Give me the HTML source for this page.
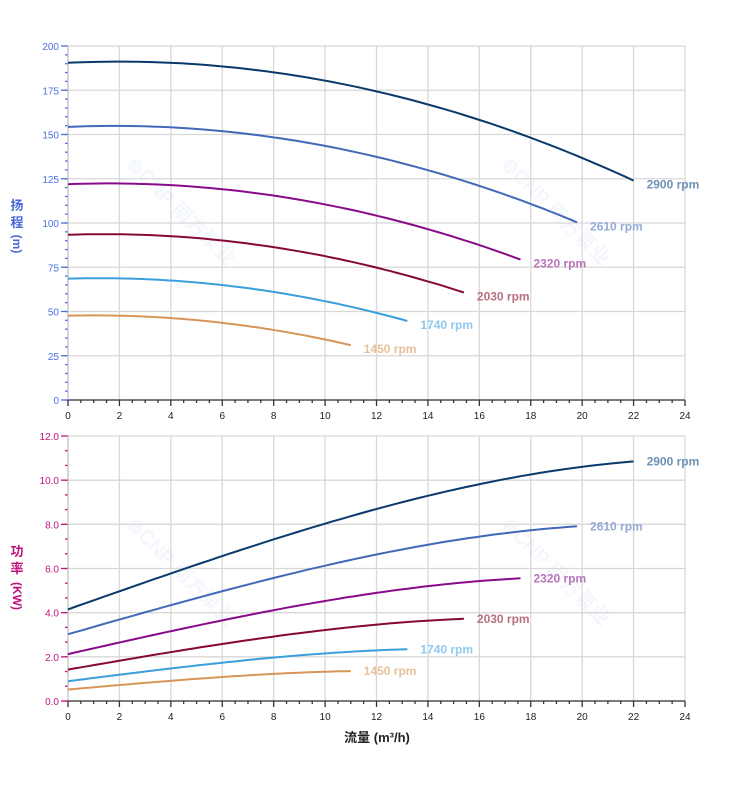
<!DOCTYPE html>
<html><head><meta charset="utf-8"><style>
html,body{margin:0;padding:0;background:#fff;}
svg{display:block;font-family:"Liberation Sans","Noto Sans CJK SC",sans-serif;}
</style></head><body>
<svg id="s" width="752" height="797" xmlns="http://www.w3.org/2000/svg">
<g opacity="0.06" fill="#3a7bd5" font-weight="bold" font-size="20">
<text transform="translate(125,165) rotate(45)">⊜CNP 南方泵业</text>
<text transform="translate(500,165) rotate(45)">⊜CNP 南方泵业</text>
<text transform="translate(125,525) rotate(45)">⊜CNP 南方泵业</text>
<text transform="translate(500,525) rotate(45)">⊜CNP 南方泵业</text>
</g>
<g id="g"></g>
<text x="17" y="210" font-size="13" font-weight="bold" fill="#4a68d8" text-anchor="middle">扬</text>
<text x="17" y="227" font-size="13" font-weight="bold" fill="#4a68d8" text-anchor="middle">程</text>
<text transform="translate(13,244) rotate(90)" font-size="12" font-weight="bold" fill="#4a68d8" text-anchor="middle">(m)</text>
<text x="17" y="556" font-size="13" font-weight="bold" fill="#c0147e" text-anchor="middle">功</text>
<text x="17" y="573" font-size="13" font-weight="bold" fill="#c0147e" text-anchor="middle">率</text>
<text transform="translate(13,596) rotate(90)" font-size="12" font-weight="bold" fill="#c0147e" text-anchor="middle">(KW)</text>
<text x="377" y="742" font-size="13" font-weight="bold" fill="#222" text-anchor="middle">流量 (m³/h)</text>
</svg>
<script>
var g=document.getElementById('g'),h='';
var X0=68,X1=685,xs=(X1-X0)/24;
function X(q){return X0+q*xs;}
function ln(a,b,c,d,col,w){h+='<line x1="'+a+'" y1="'+b+'" x2="'+c+'" y2="'+d+'" stroke="'+col+'" stroke-width="'+w+'"/>';}
function tx(x,y,t,col,sz,anc,bold){h+='<text x="'+x+'" y="'+y+'" fill="'+col+'" font-size="'+sz+'" text-anchor="'+(anc||'start')+'"'+(bold?' font-weight="bold"':'')+'>'+t+'</text>';}
function chart(yT,yB,max,maj,minN,col,fmt){
  var ys=(yB-yT)/max;
  for(var i=0;i<=12;i++){ln(X(2*i),yT,X(2*i),yB,'#d8d8d8',1.3);}
  for(var v=0;v<=max+1e-9;v+=maj){var y=yB-v*ys;ln(X0,y,X1,y,'#d8d8d8',1.3);ln(X0-7,y,X0,y,col,1.3);tx(X0-9,y+4,fmt(v),col,10,'end');}
  for(var v=0;v<max-1e-9;v+=maj/minN){var y=yB-v*ys;ln(X0-3,y,X0,y,col,1.3);}
  ln(X0,yT,X0,yB,'#bbb',1);
  ln(X0,yB,X1,yB,'#333',1.3);
  for(var q=0;q<=24;q+=0.5){var big=(q%2==0);ln(X(q),yB,X(q),yB+(big?6:3),'#333',1.3);}
  for(var q=0;q<=24;q+=2)tx(X(q),yB+19,q,'#222',10,'middle');
  return ys;
}
var ysT=chart(46,400,200,25,5,'#4a70e0',function(v){return v;});
var ysB=chart(436,701,12,2,3,'#c0147e',function(v){return v.toFixed(1);});
var sp=[[2900,'#0a3a6b','#6c92b4'],[2610,'#4169b8','#93a8d4'],[2320,'#8a0b8a','#b874b8'],[2030,'#850935','#b8707f'],[1740,'#3a9fdc','#8fc9ee'],[1450,'#d8955a','#e8c09c']];
sp.forEach(function(s){
  var r=s[0]/2900,qm=22*r,pa='',pb='';
  for(var i=0;i<=60;i++){var q=qm*i/60;
    var H=r*r*190.5+r*0.672*q-0.168*q*q;
    var P=r*r*r*4.15+r*r*0.41*q-0.000218*q*q*q;
    pa+=(i?'L':'M')+X(q).toFixed(1)+' '+(400-H*ysT).toFixed(1);
    pb+=(i?'L':'M')+X(q).toFixed(1)+' '+(701-P*ysB).toFixed(1);
    if(i==60){s.H=H;s.P=P;}
  }
  h+='<path d="'+pa+'" fill="none" stroke="'+s[1]+'" stroke-width="2"/>';
  h+='<path d="'+pb+'" fill="none" stroke="'+s[1]+'" stroke-width="2"/>';
  tx(X(qm)+13,400-s.H*ysT+8,s[0]+' rpm',s[2],12,'start',true);
  tx(X(qm)+13,701-s.P*ysB+4,s[0]+' rpm',s[2],12,'start',true);
});
g.innerHTML=h;
</script>
</body></html>
